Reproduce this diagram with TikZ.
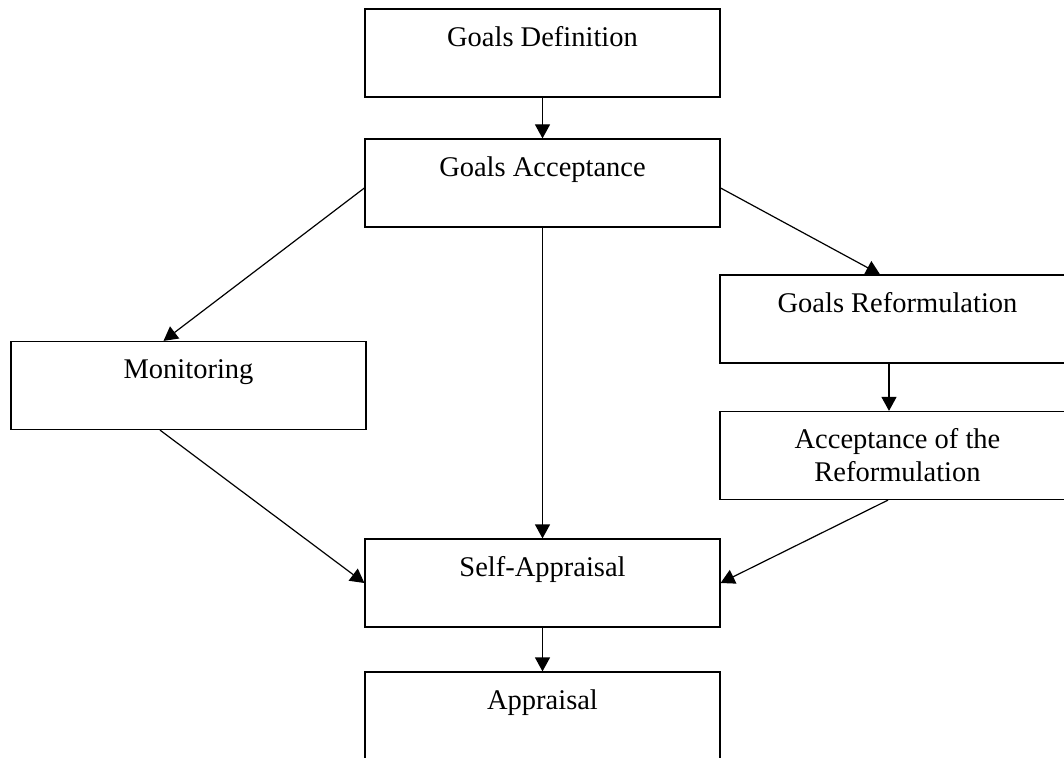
\documentclass[tikz,border=0pt]{standalone}
\usepackage{fontspec}
\setmainfont{Liberation Serif}
\usetikzlibrary{arrows.meta}
\begin{document}
\begin{tikzpicture}[x=.5pt, y=-.5pt, line width=.6pt,
	box/.style={draw, rectangle, align=center, minimum width=177.5pt, minimum height=44pt,
		font=\fontsize{14.25}{16.4}\selectfont},
	arr/.style={-{Triangle[length=7pt,width=7.5pt]}}]
	\useasboundingbox (0,0) rectangle (1064,758);
	\node[box] (defn)   at (542.5,53)    {Goals Definition\\\mbox{}};
	\node[box] (accept) at (542.5,183)   {Goals Acceptance\\\mbox{}};
	\node[box] (monit)  at (188.5,385.5) {Monitoring\\\mbox{}};
	\node[box] (reform) at (897.5,319)   {Goals Reformulation\\\mbox{}};
	\node[box] (reacc)  at (897.5,455.5) {Acceptance of the\\Reformulation};
	\node[box] (self)   at (542.5,583)   {Self-Appraisal\\\mbox{}};
	\node[box] (appr)   at (542.5,716)   {Appraisal\\\mbox{}};
	\draw[arr] (defn.south) -- (accept.north);
	\draw[arr] ([yshift=-2.5pt]accept.west) -- ([xshift=-12.5pt]monit.north);
	\draw[arr] ([yshift=-2.5pt]accept.east) -- ([xshift=-8.75pt]reform.north);
	\draw[arr] (accept.south) -- (self.north);
	\draw[arr] ([xshift=-4.25pt]reform.south) -- ([xshift=-4.25pt]reacc.north);
	\draw[arr] ([xshift=-14.25pt]monit.south) -- (self.west);
	\draw[arr] ([xshift=-4.75pt]reacc.south) -- (self.east);
	\draw[arr] (self.south) -- (appr.north);
\end{tikzpicture}
\end{document}
